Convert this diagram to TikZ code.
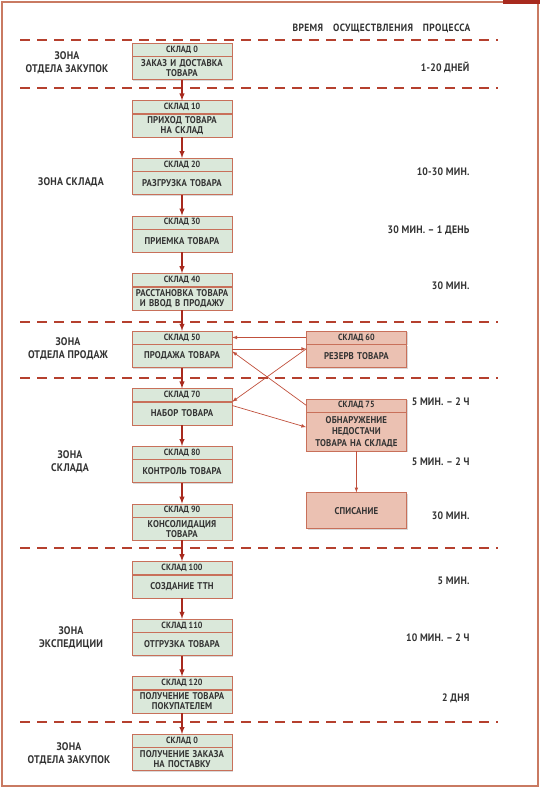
\documentclass[tikz,border=0pt]{standalone}
\usepackage{fontspec}
\setmainfont{PT Sans}[FakeStretch=0.9]
\usetikzlibrary{arrows, positioning, shadows}
\definecolor{mgreen}{HTML}{DAE8DA}
\definecolor{mpink}{HTML}{EBC1B2}
\definecolor{medge}{HTML}{C8705A}
\definecolor{mred}{HTML}{A82A1E}
\definecolor{mdash}{HTML}{B5402E}
\definecolor{mlink}{HTML}{C0503C}
\definecolor{mframe}{HTML}{C97A62}
\definecolor{mtext}{HTML}{333333}
\tikzstyle{head} = [rectangle, draw = medge, fill = mgreen, minimum width = 100pt, minimum height = 13pt, inner sep = 0pt, text = mtext, font = \bfseries\fontsize{9}{9}\selectfont, drop shadow = {shadow xshift = 1.2pt, shadow yshift = -1.2pt, opacity = 0.3}]
\tikzstyle{stage} = [rectangle, draw = medge, fill = mgreen, minimum width = 100pt, minimum height = 23pt, text width = 99pt, inner sep = 0.5pt, align = center, text = mtext, font = \bfseries\fontsize{9.8}{10}\selectfont\addfontfeatures{LetterSpace=1.5}, drop shadow = {shadow xshift = 1.2pt, shadow yshift = -1.2pt, opacity = 0.3}]
\tikzstyle{zone} = [align = center, text = mtext, font = \bfseries\fontsize{11}{13.5}\selectfont\addfontfeatures{LetterSpace=2}]
\tikzstyle{time} = [anchor = east, text = mtext, font = \bfseries\fontsize{10.8}{12}\selectfont\addfontfeatures{LetterSpace=2}]
\tikzstyle{border} = [mdash, line width = 2pt, dash pattern = on 10pt off 7pt]
\tikzstyle{flow} = [mred, line width = 1.4pt, ->, >=latex]
\tikzstyle{link} = [mlink, line width = 0.7pt, ->, >=latex]

\begin{document}
\begin{tikzpicture}[x = 1pt, y = -1pt, node distance = 20.8pt]
\useasboundingbox (0,0) rectangle (540,788);
%Frame
\draw [mframe, line width = 1.5pt] (2,2) rectangle (538,786);
\fill [mred] (503,0) rectangle (540,3.5);
%Zone borders
\draw [border] (20,40) -- (498,40);
\draw [border] (20,88) -- (498,88);
\draw [border] (20,322) -- (498,322);
\draw [border] (20,378) -- (498,378);
\draw [border] (20,548) -- (498,548);
\draw [border] (20,722) -- (498,722);
%Zones
\node (z1) [zone] at (67,63) {ЗОНА\\ОТДЕЛА ЗАКУПОК};
\node (z2) [zone] at (71,182) {ЗОНА СКЛАДА};
\node (z3) [zone] at (68,349) {ЗОНА\\ОТДЕЛА ПРОДАЖ};
\node (z4) [zone] at (70,462) {ЗОНА\\СКЛАДА};
\node (z5) [zone] at (71,638) {ЗОНА\\ЭКСПЕДИЦИИ};
\node (z6) [zone] at (69,754) {ЗОНА\\ОТДЕЛА ЗАКУПОК};
%Times
\node (t0) [time, font = \bfseries\fontsize{10.5}{12}\selectfont\addfontfeatures{LetterSpace=4}] at (474,28) {ВРЕМЯ\hspace{7pt} ОСУЩЕСТВЛЕНИЯ\hspace{7pt} ПРОЦЕССА};
\node (t1) [time] at (473,67) {1-20 ДНЕЙ};
\node (t2) [time] at (473,172) {10-30 МИН.};
\node (t3) [time] at (473,230) {30 МИН. – 1 ДЕНЬ};
\node (t4) [time] at (473,286) {30 МИН.};
\node (t5) [time] at (473,402) {5 МИН. – 2 Ч};
\node (t6) [time] at (473,462) {5 МИН. – 2 Ч};
\node (t7) [time] at (473,516) {30 МИН.};
\node (t8) [time] at (473,581) {5 МИН.};
\node (t9) [time] at (473,638) {10 МИН. – 2 Ч};
\node (t10) [time] at (473,698) {2 ДНЯ};
%Main steps
\node (s0h) [head] at (182,49.5) {СКЛАД 0};
\node (s0) [stage, below = 0pt of s0h] {ЗАКАЗ И ДОСТАВКА\\ТОВАРА};
\node (s10h) [head, below = of s0] {СКЛАД 10};
\node (s10) [stage, below = 0pt of s10h] {ПРИХОД ТОВАРА\\НА СКЛАД};
\node (s20h) [head, below = of s10] {СКЛАД 20};
\node (s20) [stage, below = 0pt of s20h] {РАЗГРУЗКА ТОВАРА};
\node (s30h) [head, below = of s20] {СКЛАД 30};
\node (s30) [stage, below = 0pt of s30h] {ПРИЕМКА ТОВАРА};
\node (s40h) [head, below = of s30] {СКЛАД 40};
\node (s40) [stage, below = 0pt of s40h] {РАССТАНОВКА ТОВАРА\\И ВВОД В ПРОДАЖУ};
\node (s50h) [head, below = of s40] {СКЛАД 50};
\node (s50) [stage, below = 0pt of s50h] {ПРОДАЖА ТОВАРА};
\node (s70h) [head, below = of s50] {СКЛАД 70};
\node (s70) [stage, below = 0pt of s70h] {НАБОР ТОВАРА};
\node (s80h) [head, below = of s70] {СКЛАД 80};
\node (s80) [stage, below = 0pt of s80h] {КОНТРОЛЬ ТОВАРА};
\node (s90h) [head, below = of s80] {СКЛАД 90};
\node (s90) [stage, below = 0pt of s90h] {КОНСОЛИДАЦИЯ\\ТОВАРА};
\node (s100h) [head, below = of s90] {СКЛАД 100};
\node (s100) [stage, below = 0pt of s100h] {СОЗДАНИЕ ТТН};
\node (s110h) [head, below = of s100] {СКЛАД 110};
\node (s110) [stage, below = 0pt of s110h] {ОТГРУЗКА ТОВАРА};
\node (s120h) [head, below = of s110] {СКЛАД 120};
\node (s120) [stage, below = 0pt of s120h] {ПОЛУЧЕНИЕ ТОВАРА\\ПОКУПАТЕЛЕМ};
\node (e0h) [head, below = of s120] {СКЛАД 0};
\node (e0) [stage, below = 0pt of e0h] {ПОЛУЧЕНИЕ ЗАКАЗА\\НА ПОСТАВКУ};
%Side steps
\node (s60h) [head, fill = mpink, right = 74pt of s50h] {СКЛАД 60};
\node (s60) [stage, fill = mpink, below = 0pt of s60h] {РЕЗЕРВ ТОВАРА};
\node (s75h) [head, fill = mpink, below = 31pt of s60] {СКЛАД 75};
\node (s75) [stage, fill = mpink, minimum height = 39pt, font = \bfseries\fontsize{9.8}{11.5}\selectfont\addfontfeatures{LetterSpace=1.5}, below = 0pt of s75h] {ОБНАРУЖЕНИЕ\\НЕДОСТАЧИ\\ТОВАРА НА СКЛАДЕ};
\node (sp) [stage, fill = mpink, minimum height = 36pt, below = 41pt of s75] {СПИСАНИЕ};
%Flow
\draw [flow] (s0) -- (s10h);
\draw [flow] (s10) -- (s20h);
\draw [flow] (s20) -- (s30h);
\draw [flow] (s30) -- (s40h);
\draw [flow] (s40) -- (s50h);
\draw [flow] (s50) -- (s70h);
\draw [flow] (s70) -- (s80h);
\draw [flow] (s80) -- (s90h);
\draw [flow] (s90) -- (s100h);
\draw [flow] (s100) -- (s110h);
\draw [flow] (s110) -- (s120h);
\draw [flow] (s120) -- (e0h);
%Links
\draw [link] (s60h.west) -- (s50h.east);
\draw [link] ([yshift = 7pt]s50.east) -- ([yshift = 7pt]s60.west);
\draw [link] ([yshift = 7pt]s60.west) -- (s70h.south east);
\draw [link] (s75h.west) -- ([yshift = 4.5pt]s50.east);
\draw [link] ([yshift = 8pt]s70.east) -- ([yshift = 4.5pt]s75.west);
\draw [link] (s75) -- (sp);
\end{tikzpicture}
\end{document}
